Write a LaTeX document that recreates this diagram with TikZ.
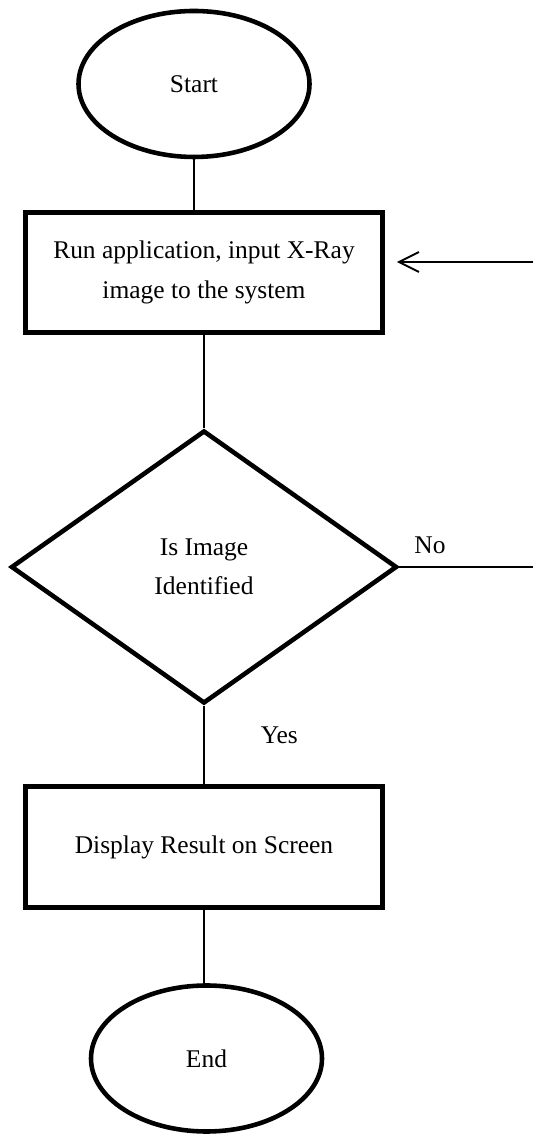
\documentclass[tikz,border=0pt]{standalone}
\usepackage{fontspec}
\setmainfont{Liberation Serif}
\usepackage{tikz}
\usetikzlibrary{shapes.geometric,arrows.meta}

\begin{document}
\begin{tikzpicture}[
  font=\fontsize{14.5}{22.5}\selectfont,
  term/.style={draw,ellipse,line width=2.6pt,inner sep=0pt,minimum width=4.62cm,minimum height=2.92cm},
  stepbox/.style={draw,rectangle,line width=2.6pt,minimum width=7.14cm,minimum height=2.4cm,align=center},
  query/.style={draw,diamond,line width=2.6pt,inner sep=0pt,minimum width=7.72cm,minimum height=5.46cm,align=center},
  link/.style={line width=1.1pt}]
\useasboundingbox (0,0) rectangle (10.66,22.7);
\node (start) at (3.88,21.02) [term] {Start};
\node (run) at (4.08,17.25) [stepbox] {Run application, input X-Ray\\image to the system};
\node (decide) at (4.08,11.36) [query] {Is Image\\Identified};
\node (show) at (4.08,5.76) [stepbox,minimum height=2.42cm] {Display Result on Screen};
\node (finish) at (4.13,1.53) [term] {End};
\coordinate (back) at (10.66,17.46);
\coordinate (noend) at (10.66,11.36);
\draw[link] (start.south) -- (start.south |- run.north);
\draw[link] (run.south) -- (decide.north);
\draw[link] (decide.south) -- node[right=1cm,pos=0.37] {Yes} (show.north);
\draw[link] (show.south) -- (show.south |- finish.north);
\draw[link] (decide.east) -- node[above=0.12cm,pos=0.23] {No} (noend);
\draw[link][-{Straight Barb[length=0.4cm,width=0.4cm]}][shorten >=0.24cm] (back) -- (run.east |- back);
\end{tikzpicture}
\end{document}
